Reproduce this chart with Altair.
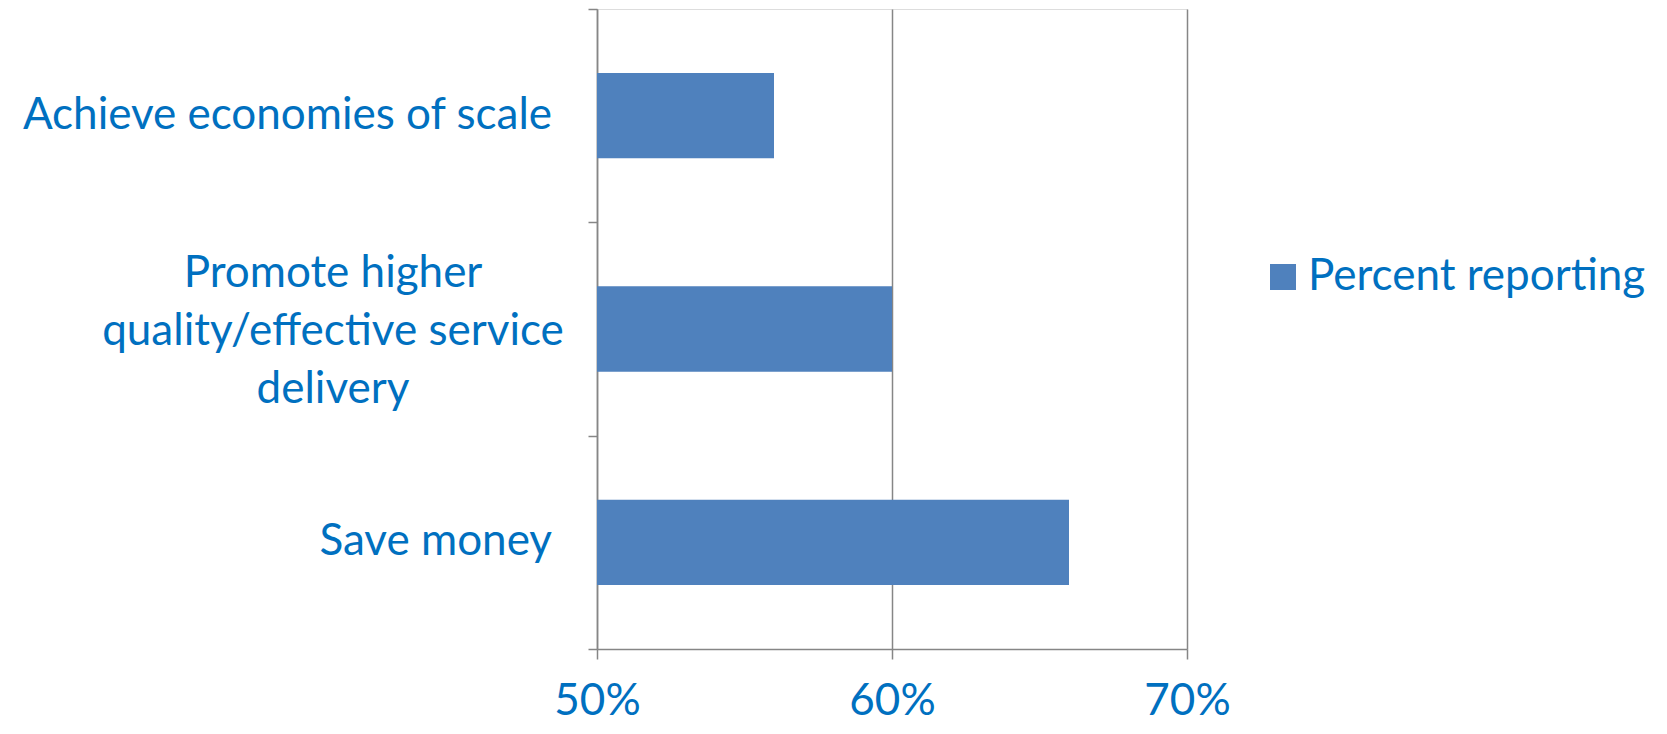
import altair as alt
import pandas as pd

categories = ["Achieve economies of scale",
              "Promote higher quality/effective service delivery",
              "Save money"]
display_labels = ["Achieve economies of scale",
                  "Promote higher\nquality/effective service\ndelivery",
                  "Save money"]
values = [0.56, 0.60, 0.66]
series_name = "Percent reporting"
x_ticks = [0.5, 0.6, 0.7]

df = pd.DataFrame({
    "category": categories,
    "label": display_labels,
    "value": values,
    "series": [series_name] * len(categories),
    "multiline": ["\n" in s for s in display_labels],
})

BLUE_TEXT = "#0070C0"
BAR = "#4F81BD"
GRAY = "#868686"
FONT = "Lato"
FS = 44

y_enc = alt.Y("category:N", sort=categories,
              scale=alt.Scale(paddingInner=0, paddingOuter=0),
              axis=alt.Axis(labels=False, title=None, tickBand="extent",
                            ticks=True, tickSize=9, tickColor=GRAY, tickWidth=1.5,
                            domainColor=GRAY, domainWidth=1.5, grid=False))

bars = alt.Chart(df).mark_bar(height=alt.RelativeBandSize(band=0.4)).encode(
    x=alt.X("value:Q",
            scale=alt.Scale(domain=[0.5, 0.7], zero=False, nice=False),
            axis=alt.Axis(values=x_ticks, format=".0%", title=None,
                          labelFont=FONT, labelFontSize=FS, labelColor=BLUE_TEXT,
                          labelFlush=False, labelOverlap=False,
                          labelPadding=20, tickSize=10, tickColor=GRAY, tickWidth=1.5,
                          domainColor=GRAY, domainWidth=1.5,
                          grid=True, gridColor=GRAY, gridWidth=1.5)),
    x2=alt.datum(0.5),
    y=y_enc,
    color=alt.Color("series:N",
                    scale=alt.Scale(range=[BAR]),
                    legend=alt.Legend(title=None, orient="none", legendX=664, legendY=246,
                                      symbolType="square", symbolSize=676,
                                      symbolStrokeWidth=0, symbolFillColor=BAR,
                                      labelFont=FONT, labelFontSize=FS, labelLimit=0,
                                      labelColor=BLUE_TEXT, labelOffset=3, padding=0)),
)

single = alt.Chart(df).transform_filter("!datum.multiline").mark_text(
    align="right", baseline="middle", font=FONT, fontSize=FS, color=BLUE_TEXT,
).encode(
    y=alt.Y("category:N", sort=categories),
    x=alt.value(-45),
    text="label:N",
)

multi = alt.Chart(df).transform_filter("datum.multiline").mark_text(
    align="center", baseline="middle", font=FONT, fontSize=FS, color=BLUE_TEXT,
    lineBreak="\n", lineHeight=58, dy=-55,
).encode(
    y=alt.Y("category:N", sort=categories),
    x=alt.value(-264),
    text="label:N",
)

chart = alt.layer(bars, single, multi).properties(
    width=590, height=640,
    autosize=alt.AutoSizeParams(type="none"),
    padding={"left": 589, "top": 1, "right": 472, "bottom": 77},
).configure_view(stroke=None).configure(background="white")

chart.save("out.html", embed_options={"renderer": "svg", "actions": False})
